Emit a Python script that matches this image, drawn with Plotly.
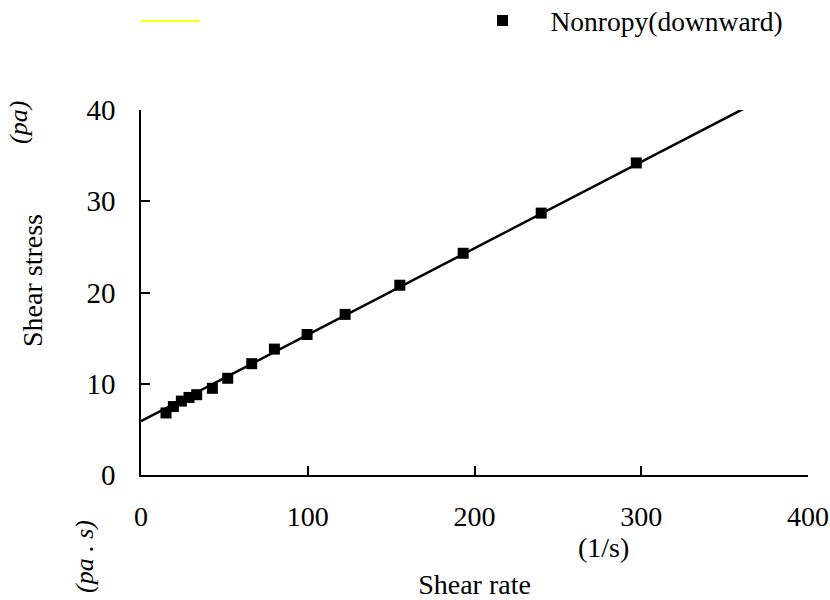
import plotly.graph_objects as go

# Data
shear_rate = [15, 19.4, 24.2, 28.8, 33.4, 42.8, 52, 66.4, 80, 99.6, 122.4, 155.2, 193.2, 240, 297]
shear_stress = [6.8, 7.5, 8.1, 8.5, 8.8, 9.5, 10.6, 12.2, 13.8, 15.4, 17.6, 20.8, 24.3, 28.7, 34.2]
fit_x = [0, 361]
fit_y = [5.9, 40.1]
x_ticks = [0, 100, 200, 300, 400]
y_ticks = [0, 10, 20, 30, 40]

FONT = "Liberation Serif"

fig = go.Figure()
fig.add_trace(go.Scatter(
    x=fit_x, y=fit_y, mode="lines",
    line=dict(color="black", width=2.5),
    showlegend=False, hoverinfo="skip",
))
fig.add_trace(go.Scatter(
    x=shear_rate, y=shear_stress, mode="markers",
    marker=dict(symbol="square", size=11, color="black"),
    name="Nonropy(downward)",
))

fig.update_layout(
    width=830, height=600,
    margin=dict(l=141, r=22, t=110, b=125, autoexpand=False),
    paper_bgcolor="white", plot_bgcolor="white",
    font=dict(family=FONT, size=27, color="black"),
    showlegend=True,
    legend=dict(
        x=0.47, y=1.245, xanchor="left", yanchor="middle",
        itemwidth=86, bgcolor="rgba(0,0,0,0)",
        font=dict(family=FONT, size=27.5, color="black"),
    ),
    xaxis=dict(
        range=[0, 400], tickvals=x_ticks, ticktext=[str(v) for v in x_ticks],
        showline=True, linecolor="black", linewidth=1.5,
        ticks="inside", ticklen=9, tickcolor="black", tickwidth=1.5,
        showgrid=False, zeroline=False, fixedrange=True,
        ticklabelstandoff=16,
        tickfont=dict(family=FONT, size=28, color="black"),
        title=dict(text="Shear rate", standoff=64,
                   font=dict(family=FONT, size=28, color="black")),
    ),
    yaxis=dict(
        range=[0, 40], tickvals=y_ticks, ticktext=[str(v) for v in y_ticks],
        showline=True, linecolor="black", linewidth=1.5,
        ticks="inside", ticklen=9, tickcolor="black", tickwidth=1.5,
        showgrid=False, zeroline=False, fixedrange=True,
        ticklabelstandoff=18,
        tickfont=dict(family=FONT, size=29, color="black"),
    ),
    shapes=[dict(
        type="line", xref="paper", yref="paper",
        x0=0.0, x1=0.088, y0=1.244, y1=1.244,
        line=dict(color="#FFFF33", width=2.5),
    )],
    annotations=[
        dict(text="Shear stress", textangle=-90, xref="paper", yref="paper",
             x=(32 - 141) / 667, y=(475 - 281) / 365, xanchor="center", yanchor="middle",
             showarrow=False, font=dict(family=FONT, size=28, color="black")),
        dict(text="<i>(pa)</i>", textangle=-90, xref="paper", yref="paper",
             x=(19 - 141) / 667, y=(475 - 123) / 365, xanchor="center", yanchor="middle",
             showarrow=False, font=dict(family=FONT, size=26, color="black")),
        dict(text="<i>(pa . s)</i>", textangle=-90, xref="paper", yref="paper",
             x=(84 - 141) / 667, y=(475 - 557) / 365, xanchor="center", yanchor="middle",
             showarrow=False, font=dict(family=FONT, size=26, color="black")),
        dict(text="(1/s)", xref="paper", yref="paper",
             x=(603 - 141) / 667, y=(475 - 547) / 365, xanchor="center", yanchor="middle",
             showarrow=False, font=dict(family=FONT, size=28, color="black")),
    ],
)

fig.write_html("out.html")
